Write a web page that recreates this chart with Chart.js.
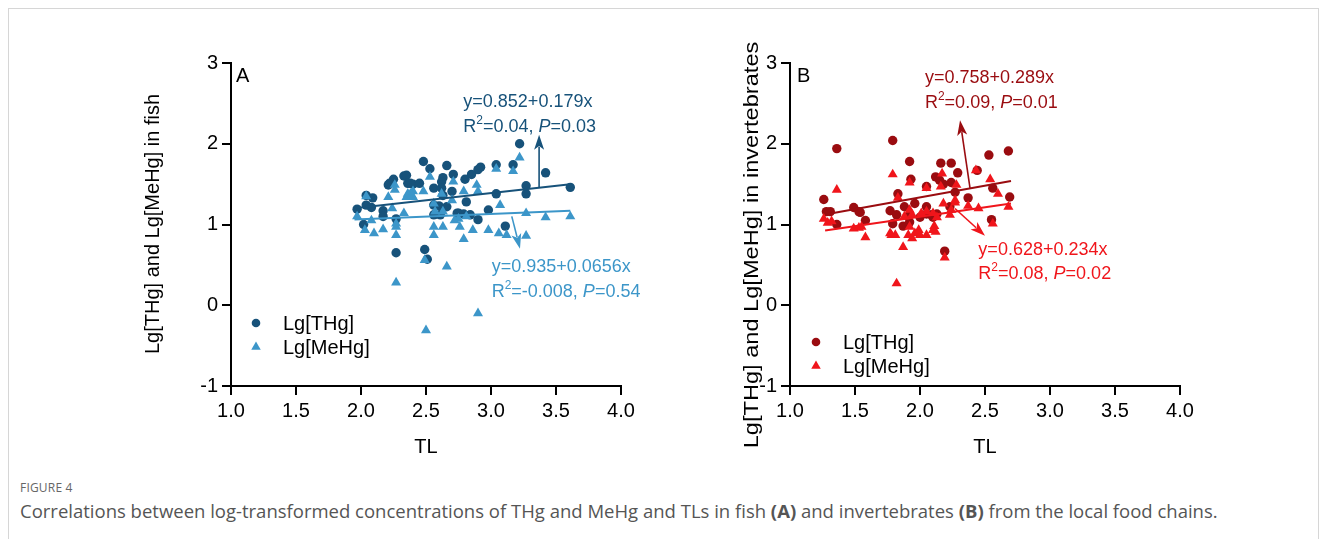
<!DOCTYPE html>
<html>
<head>
<meta charset="utf-8">
<script src="https://cdn.jsdelivr.net/npm/chart.js@4.4.1/dist/chart.umd.min.js"></script>
<style>
  html, body { margin: 0; padding: 0; background: #fff; }
  body { width: 1328px; height: 539px; position: relative; overflow: hidden; }
  .frame { position: absolute; left: 8px; top: 8px; width: 1311px; height: 600px; border: 1px solid #d6d6d6; box-sizing: border-box; }
  canvas { position: absolute; }
  #chartA { left: 120px; top: 40px; }
  #chartB { left: 679px; top: 40px; }
  .fig { position: absolute; left: 20px; top: 479px; font-family: "Open Sans", "Noto Sans", sans-serif; font-size: 12px; color: #666; letter-spacing: 0.2px; }
  .cap { position: absolute; left: 20px; top: 498px; font-family: "Open Sans", "Noto Sans", sans-serif; font-size: 18.5px; color: #555; white-space: nowrap; }
</style>
</head>
<body>
<div class="frame"></div>
<canvas id="chartA" width="560" height="430"></canvas>
<canvas id="chartB" width="560" height="430"></canvas>
<div class="fig">FIGURE 4</div>
<div class="cap">Correlations between log-transformed concentrations of THg and MeHg and TLs in fish <b>(A)</b> and invertebrates <b>(B)</b> from the local food chains.</div>
<script>
// fish, Lg[THg] vs TL
const fishTlThg = [1.97, 2.02, 2.04, 2.08, 2.04, 2.09, 2.17, 2.17, 2.21, 2.25, 2.33, 2.35, 2.36, 2.40, 2.27, 2.27, 2.45, 3.22, 2.48, 2.53,
  2.66, 2.71, 2.92, 2.90, 3.04, 3.17, 2.85, 3.42, 2.80, 2.63, 2.62, 2.56, 2.62, 2.70, 3.04, 3.27, 3.27, 3.61, 2.63, 2.81,
  2.56, 2.60, 2.98, 2.56, 2.61, 2.75, 2.79, 2.90, 3.11, 2.49, 2.51, 2.84, 2.22, 2.66, 2.74, 2.38];
const fishThg = [1.19, 1.00, 1.24, 1.21, 1.36, 1.33, 1.17, 1.10, 1.49, 1.56, 1.60, 1.61, 1.51, 1.50, 1.07, 0.65, 1.51, 2.00, 1.78, 1.69,
  1.73, 1.62, 1.71, 1.68, 1.74, 1.74, 1.62, 1.64, 1.56, 1.58, 1.53, 1.45, 1.45, 1.41, 1.38, 1.48, 1.38, 1.46, 1.36, 1.28,
  1.24, 1.23, 1.18, 1.12, 1.12, 1.14, 1.13, 1.06, 0.98, 0.69, 0.57, 1.12, 1.51, 1.22, 1.14, 1.51];

// fish, Lg[MeHg] vs TL
const fishTlMehg = [1.97, 2.04, 2.08, 2.03, 2.10, 2.17, 2.21, 2.24, 2.26, 2.27, 2.27, 2.33, 2.35, 2.40, 2.27, 3.22, 3.04, 3.17, 2.53, 2.71,
  2.38, 2.40, 2.48, 2.62, 2.70, 2.79, 2.89, 2.90, 3.07, 3.27, 3.42, 3.61, 2.56, 2.57, 2.63, 2.75, 2.81, 2.56, 2.63, 2.56,
  2.76, 2.86, 2.98, 3.06, 3.12, 3.27, 2.79, 2.49, 2.66, 2.90, 2.50, 2.26, 2.36, 2.39, 2.27, 2.72];
const fishMehg = [1.10, 1.35, 1.05, 0.93, 0.89, 0.94, 1.34, 1.20, 1.49, 0.97, 0.87, 1.14, 1.34, 1.34, 0.28, 1.83, 1.69, 1.66, 1.59, 1.53,
  1.38, 1.41, 1.41, 1.38, 1.30, 1.41, 1.49, 1.41, 1.24, 1.14, 1.09, 1.10, 1.26, 1.16, 1.16, 1.07, 1.10, 0.97, 0.97, 0.87,
  0.97, 0.93, 0.93, 0.89, 0.87, 0.86, 0.82, 0.56, 0.48, -0.10, -0.31, 1.43, 1.38, 1.36, 1.01, 1.05];

// invertebrates, Lg[THg] vs TL
const invTlThg = [1.36, 1.79, 1.26, 1.28, 1.31, 1.49, 1.53, 1.54, 1.36, 1.58, 1.92, 1.93, 1.83, 1.96, 1.88, 1.77, 1.82, 1.79, 1.87, 1.92,
  2.05, 2.12, 2.15, 2.16, 2.24, 2.29, 2.24, 2.27, 2.37, 2.05, 2.09, 2.13, 2.00, 2.19, 1.91, 2.53, 2.68, 2.44, 2.56, 2.69,
  2.55, 2.18, 2.05, 2.10, 2.23];
const invThg = [1.94, 2.04, 1.31, 1.16, 1.16, 1.21, 1.16, 1.15, 1.00, 1.05, 1.78, 1.56, 1.38, 1.26, 1.22, 1.17, 1.12, 1.01, 0.98, 1.03,
  1.47, 1.59, 1.55, 1.76, 1.76, 1.64, 1.52, 1.40, 1.33, 1.13, 1.12, 1.13, 1.09, 0.67, 1.10, 1.86, 1.91, 1.67, 1.45, 1.34,
  1.06, 1.50, 1.22, 1.09, 1.22];

// invertebrates, Lg[MeHg] vs TL
const invTlMehg = [1.36, 1.79, 1.26, 1.29, 1.32, 1.49, 1.53, 1.55, 1.58, 1.92, 1.83, 2.05, 2.17, 2.16, 2.28, 1.78, 1.81, 1.87, 1.91, 1.94,
  1.96, 2.00, 2.05, 2.12, 2.11, 1.88, 1.94, 2.05, 1.82, 2.19, 2.18, 2.23, 2.27, 2.37, 2.43, 2.54, 2.60, 2.68, 2.56, 2.45,
  1.92, 2.01, 2.10, 2.13, 2.24, 1.92, 1.99, 2.10, 1.77, 2.27];
const invMehg = [1.43, 1.62, 1.07, 1.02, 1.04, 0.95, 0.96, 0.97, 0.84, 1.52, 1.33, 1.45, 1.63, 1.47, 1.49, 0.87, 0.87, 0.72, 0.87, 0.83,
  0.89, 0.87, 0.87, 0.91, 0.98, 1.10, 1.12, 1.16, 0.27, 0.59, 1.26, 1.12, 1.27, 1.23, 1.67, 1.56, 1.38, 1.22, 1.01, 1.20,
  1.18, 1.14, 1.14, 1.09, 1.18, 0.97, 0.93, 0.93, 0.89, 1.30];

// fitted lines: intercept, slope, TL range
const fitIntercepts = [0.852, 0.935, 0.758, 0.628];
const fitSlopes = [0.179, 0.0656, 0.289, 0.234];
const fitFrom = [1.95, 1.95, 1.27, 1.27];
const fitTo = [3.61, 3.61, 2.70, 2.70];

const xTicks = [1.0, 1.5, 2.0, 2.5, 3.0, 3.5, 4.0];
const yTicks = [-1, 0, 1, 2, 3];

const FONT = '"Liberation Sans", Arial, sans-serif';
const colFishThg = "#17527a";
const colFishMehg = "#3c96c9";
const colInvThg = "#9a0c10";
const colInvMehg = "#f0151b";

function pts(xs, ys) { return xs.map((x, i) => ({ x, y: ys[i] })); }
function fit(i) {
  return [fitFrom[i], fitTo[i]].map(x => ({ x, y: fitIntercepts[i] + fitSlopes[i] * x }));
}

function drawMarker(ctx, style, x, y, r, color) {
  ctx.fillStyle = color;
  ctx.beginPath();
  if (style === "circle") {
    ctx.arc(x, y, r, 0, Math.PI * 2);
  } else {
    for (let k = 0; k < 3; k++) {
      const a = k * Math.PI * 2 / 3;
      const px = x + Math.sin(a) * r, py = y - Math.cos(a) * r;
      if (k === 0) ctx.moveTo(px, py); else ctx.lineTo(px, py);
    }
    ctx.closePath();
  }
  ctx.fill();
}

function drawArrow(ctx, x1, y1, x2, y2, color) {
  const ang = Math.atan2(y2 - y1, x2 - x1);
  const hl = 15, hw = 5;
  ctx.strokeStyle = color;
  ctx.fillStyle = color;
  ctx.lineWidth = 1.6;
  ctx.beginPath();
  ctx.moveTo(x1, y1);
  ctx.lineTo(x2 - Math.cos(ang) * hl * 0.8, y2 - Math.sin(ang) * hl * 0.8);
  ctx.stroke();
  ctx.beginPath();
  ctx.moveTo(x2, y2);
  ctx.lineTo(x2 - Math.cos(ang) * hl + Math.sin(ang) * hw, y2 - Math.sin(ang) * hl - Math.cos(ang) * hw);
  ctx.lineTo(x2 - Math.cos(ang) * hl * 0.75, y2 - Math.sin(ang) * hl * 0.75);
  ctx.lineTo(x2 - Math.cos(ang) * hl - Math.sin(ang) * hw, y2 - Math.sin(ang) * hl + Math.cos(ang) * hw);
  ctx.closePath();
  ctx.fill();
}

// segments: [text, kind] with kind "n" normal, "s" superscript, "i" italic
function drawSegments(ctx, segs, x, y, color) {
  ctx.fillStyle = color;
  ctx.textBaseline = "middle";
  ctx.textAlign = "left";
  let cx = x;
  segs.forEach(([t, kind]) => {
    let dy = 0;
    if (kind === "s") { ctx.font = "12px " + FONT; dy = -6; }
    else if (kind === "i") ctx.font = "italic 18px " + FONT;
    else ctx.font = "18px " + FONT;
    ctx.fillText(t, cx, y + dy);
    cx += ctx.measureText(t).width;
  });
}

const decor = {
  id: "decor",
  afterDatasetsDraw(chart, args, o) {
    const { ctx, chartArea, scales } = chart;
    const sx = v => scales.x.getPixelForValue(v);
    const sy = v => scales.y.getPixelForValue(v);
    ctx.save();
    ctx.font = "20px " + FONT;
    ctx.fillStyle = "#000";
    ctx.textBaseline = "middle";
    ctx.fillText(o.letter, chartArea.left + o.letterDx, chartArea.top + 13);

    // y axis title, stretched along its length where the source panel was
    ctx.save();
    ctx.translate(o.titleX, o.titleY);
    ctx.rotate(-Math.PI / 2);
    ctx.scale(o.titleStretch, 1);
    ctx.textAlign = "center";
    ctx.fillText(o.title, 0, 0);
    ctx.restore();

    o.arrows.forEach(a => drawArrow(ctx, sx(a.from[0]), sy(a.from[1]), sx(a.to[0]), sy(a.to[1]), a.color));
    o.labels.forEach(l => {
      drawSegments(ctx, [[l.eq, "n"]], sx(l.x), sy(l.y1), l.color);
      drawSegments(ctx, [["R", "n"], ["2", "s"], ["=" + l.r2 + ", ", "n"], ["P", "i"], ["=" + l.p, "n"]], sx(l.x), sy(l.y2), l.color);
    });

    o.legend.forEach((item, i) => {
      const y = chartArea.top + o.legendTop + i * o.legendGap;
      drawMarker(ctx, item.style, chartArea.left + o.legendDx, y, item.style === "circle" ? 4.3 : 5.5, item.color);
      ctx.font = "20px " + FONT;
      ctx.fillStyle = "#000";
      ctx.textBaseline = "middle";
      ctx.textAlign = "left";
      ctx.fillText(item.text, chartArea.left + o.legendDx + 27, y + 1);
    });
    ctx.restore();
  }
};

function makeChart(id, sets, decorOpts) {
  return new Chart(document.getElementById(id), {
    type: "scatter",
    data: {
      datasets: [
        { data: sets.fitThg, type: "line", borderColor: sets.cThg, borderWidth: 2, pointRadius: 0, order: 0 },
        { data: sets.fitMehg, type: "line", borderColor: sets.cMehg, borderWidth: 2, pointRadius: 0, order: 0 },
        { data: sets.mehg, pointStyle: "triangle", pointRadius: 5.8, backgroundColor: sets.cMehg, borderWidth: 0, order: 1 },
        { data: sets.thg, pointStyle: "circle", pointRadius: 4.7, backgroundColor: sets.cThg, borderWidth: 0, order: 2 }
      ]
    },
    options: {
      responsive: false,
      animation: false,
      layout: { padding: { top: 23, right: 59, bottom: 0, left: 0 } },
      plugins: { legend: { display: false }, tooltip: { enabled: false }, decor: decorOpts },
      scales: {
        x: {
          type: "linear", min: 1, max: 4,
          afterBuildTicks: s => { s.ticks = xTicks.map(v => ({ value: v })); },
          afterFit: s => { s.height = 84; },
          grid: { display: true, drawOnChartArea: false, drawTicks: true, tickLength: 9, color: "#000", lineWidth: 2 },
          border: { display: true, color: "#000", width: 2 },
          ticks: { color: "#000", font: { family: FONT, size: 20 }, padding: 4, maxRotation: 0, callback: v => v.toFixed(1) },
          title: { display: true, text: "TL", color: "#000", font: { family: FONT, size: 20 }, padding: { top: 0, bottom: 11 } }
        },
        y: {
          type: "linear", min: -1, max: 3,
          afterBuildTicks: s => { s.ticks = yTicks.map(v => ({ value: v })); },
          afterFit: s => { s.width = 111; },
          grid: { display: true, drawOnChartArea: false, drawTicks: true, tickLength: 9, color: "#000", lineWidth: 2 },
          border: { display: true, color: "#000", width: 2 },
          ticks: { color: "#000", font: { family: FONT, size: 20 }, padding: 4 }
        }
      }
    },
    plugins: [decor]
  });
}

makeChart("chartA", {
  thg: pts(fishTlThg, fishThg), mehg: pts(fishTlMehg, fishMehg),
  fitThg: fit(0), fitMehg: fit(1), cThg: colFishThg, cMehg: colFishMehg
}, {
  letter: "A", letterDx: 5,
  title: "Lg[THg] and Lg[MeHg] in fish", titleX: 33, titleY: 184, titleStretch: 1,
  legendDx: 25, legendTop: 260, legendGap: 24,
  legend: [
    { style: "circle", color: colFishThg, text: "Lg[THg]" },
    { style: "triangle", color: colFishMehg, text: "Lg[MeHg]" }
  ],
  arrows: [
    { from: [3.37, 1.46], to: [3.37, 2.11], color: colFishThg },
    { from: [3.16, 1.10], to: [3.223, 0.70], color: colFishMehg }
  ],
  labels: [
    { eq: "y=0.852+0.179x", r2: "0.04", p: "0.03", x: 2.787, y1: 2.52, y2: 2.21, color: colFishThg },
    { eq: "y=0.935+0.0656x", r2: "-0.008", p: "0.54", x: 3.005, y1: 0.475, y2: 0.165, color: colFishMehg }
  ]
});

makeChart("chartB", {
  thg: pts(invTlThg, invThg), mehg: pts(invTlMehg, invMehg),
  fitThg: fit(2), fitMehg: fit(3), cThg: colInvThg, cMehg: colInvMehg
}, {
  letter: "B", letterDx: 7,
  title: "Lg[THg] and Lg[MeHg] in invertebrates", titleX: 73, titleY: 205, titleStretch: 1.18,
  legendDx: 26, legendTop: 279, legendGap: 24,
  legend: [
    { style: "circle", color: colInvThg, text: "Lg[THg]" },
    { style: "triangle", color: colInvMehg, text: "Lg[MeHg]" }
  ],
  arrows: [
    { from: [2.385, 1.446], to: [2.308, 2.29], color: colInvThg },
    { from: [2.269, 1.198], to: [2.50, 0.86], color: colInvMehg }
  ],
  labels: [
    { eq: "y=0.758+0.289x", r2: "0.09", p: "0.01", x: 2.038, y1: 2.813, y2: 2.503, color: colInvThg },
    { eq: "y=0.628+0.234x", r2: "0.08", p: "0.02", x: 2.449, y1: 0.68, y2: 0.39, color: colInvMehg }
  ]
});
</script>
</body>
</html>
